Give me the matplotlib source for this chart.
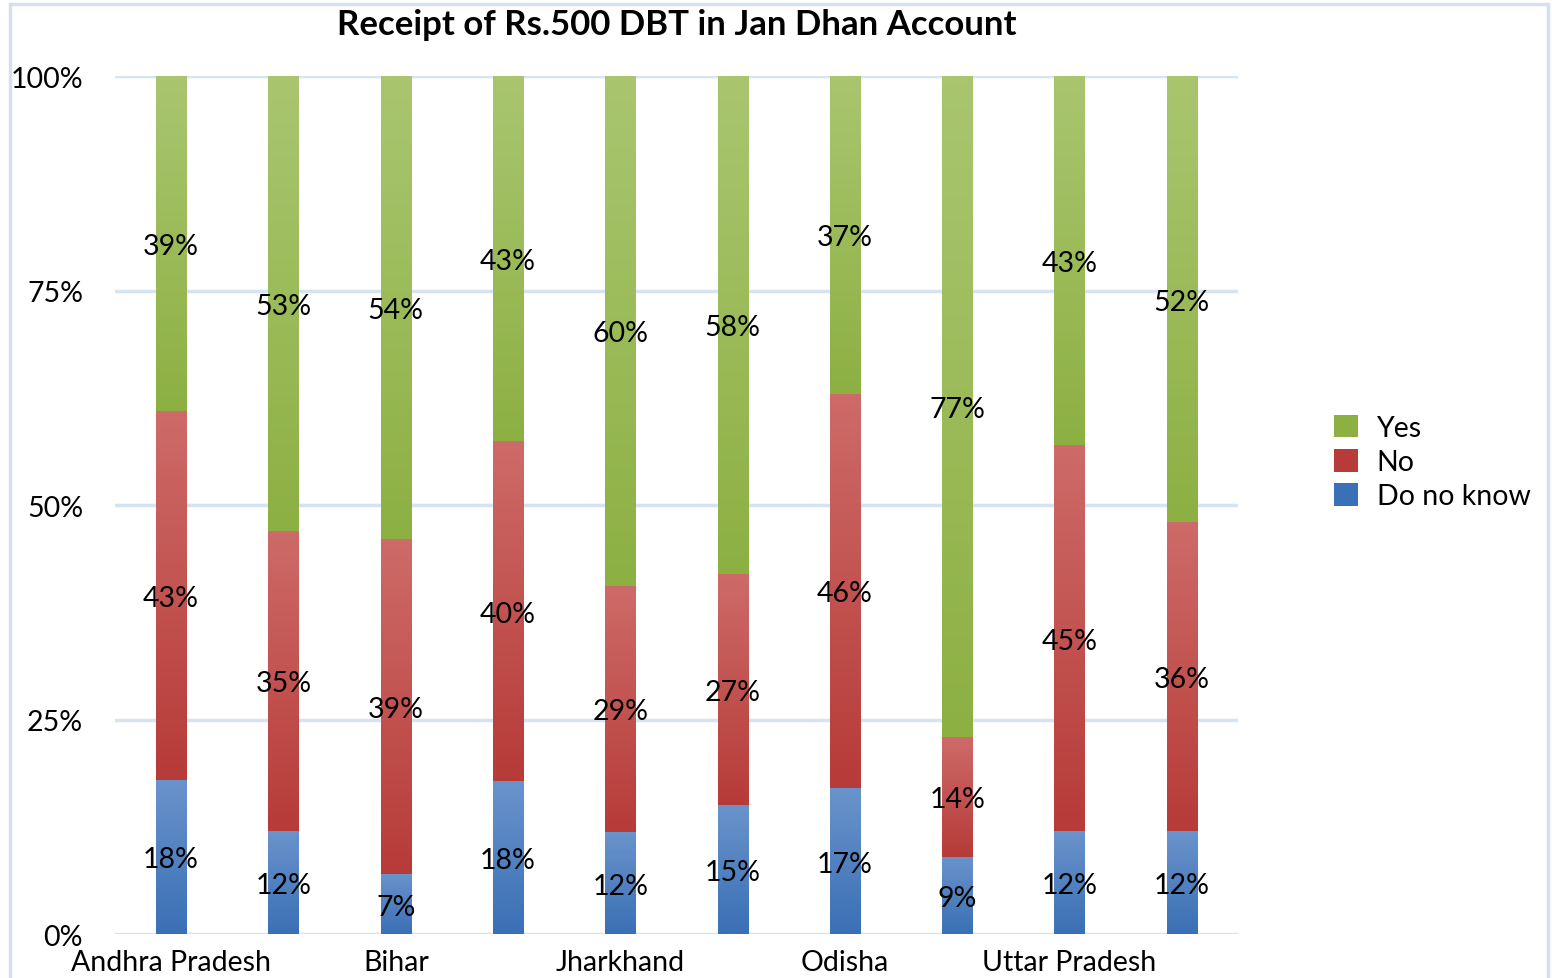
import numpy as np
import matplotlib.pyplot as plt
from matplotlib.patches import Patch
from matplotlib.colors import LinearSegmentedColormap

# Data (share of respondents, %)
# only every second state name is printed on the original axis
states = ['Andhra Pradesh', '', 'Bihar', '', 'Jharkhand', '', 'Odisha', '', 'Uttar Pradesh', '']
dont_know = [18, 12, 7, 18, 12, 15, 17, 9, 12, 12]
no = [43, 35, 39, 40, 29, 27, 46, 14, 45, 36]
yes = [39, 53, 54, 43, 60, 58, 37, 77, 43, 52]

series = [
    ('Do no know', dont_know, '#6A93CB', '#3A70B5'),
    ('No', no, '#CD6B68', '#B73B38'),
    ('Yes', yes, '#A9C66F', '#8DB043'),
]

plt.rcParams['font.family'] = ['Lato', 'DejaVu Sans']
fs = 20.5

fig = plt.figure(figsize=(15.52, 9.79), dpi=100)
ax = fig.add_axes([0.0741, 0.0449, 0.7236, 0.8764])

# border round the whole chart
fig.patches.append(plt.Rectangle((0.0065, -0.01), 0.9910, 1.005, transform=fig.transFigure,
                                 fill=False, edgecolor='#D5E0EE', linewidth=2.5))

x = np.arange(len(states))
totals = np.array(dont_know) + np.array(no) + np.array(yes)
bottom = np.zeros(len(states))
width = 0.27
grad = np.linspace(0, 1, 100).reshape(-1, 1)

for name, vals, top_c, bot_c in series:
    share = np.array(vals) / totals * 100
    bars = ax.bar(x, share, width, bottom=bottom, color=bot_c, zorder=2)
    cmap = LinearSegmentedColormap.from_list(name, [bot_c, top_c])
    for b, v, s in zip(bars, vals, share):
        bx, by = b.get_x(), b.get_y()
        im = ax.imshow(grad, cmap=cmap, origin='lower', aspect='auto',
                       extent=[bx, bx + b.get_width(), by, by + b.get_height()], zorder=3)
        im.set_clip_path(b)
        ax.text(bx + b.get_width() / 2, by + s / 2, f'{v}%', ha='center', va='center_baseline',
                fontsize=fs, color='black', zorder=4)
    bottom += share

ax.set_xlim(-0.5, len(states) - 0.5)
ax.set_ylim(0, 100)
ax.set_yticks([0, 25, 50, 75, 100])
ax.set_yticklabels(['0%', '25%', '50%', '75%', '100%'])
ax.set_xticks(x)
ax.set_xticklabels(states)
ax.tick_params(axis='both', length=0, labelsize=fs)
ax.tick_params(axis='y', pad=23)
ax.tick_params(axis='x', pad=11)
ax.grid(axis='y', color='#D6E3F2', linewidth=2.5, zorder=0)
ax.set_axisbelow(True)
for sp in ax.spines.values():
    sp.set_visible(False)

ax.set_title('Receipt of Rs.500 DBT in Jan Dhan Account', fontsize=25, fontweight='bold', pad=30)

handles = [Patch(facecolor=c[3], label=c[0]) for c in series[::-1]]
fig.legend(handles=handles, loc='center left', bbox_to_anchor=(0.843, 0.527), frameon=False,
           fontsize=fs, handlelength=0.85, handleheight=0.85, handletextpad=0.65, labelspacing=0.28)

plt.savefig('out.png')
